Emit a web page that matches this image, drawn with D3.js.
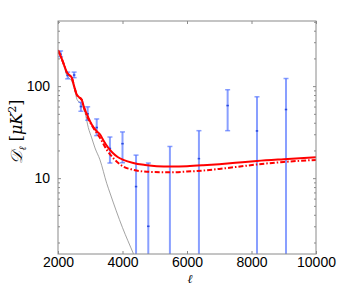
<!DOCTYPE html>
<html>
<head>
<meta charset="utf-8">
<script src="https://cdn.jsdelivr.net/npm/d3@7"></script>
<style>
  body { margin: 0; background: #fff; }
  svg { display: block; }
</style>
</head>
<body>
<div id="graph"></div>
<script>
const w = 352;
const h = 286;
const margin = {left: 58, right: 36, top: 21, bottom: 32};

// error-bar data points (multipole, D_ell, upper, lower)
const ells   = [2080, 2300, 2500, 2710, 2920, 3200, 3610, 4000, 4420, 4800, 5470, 6370, 7260, 8170, 9070];
const dlVals = [222, 131, 132, 60, 50, 35.5, 21, 23.7, 8.1, 3.0, 1.2, 16.3, 61.5, 32.6, 55.7];
const errHi  = [241, 142, 142, 66.8, 59.6, 44, 28, 31.8, 17.8, 14.6, 22.1, 32.8, 91.4, 76.6, 121];
const errLo  = [209, 120, 123.6, 53.3, 42.6, 29, 14.6, 14.7, 0.5, 0.5, 0.5, 0.5, 32.8, 0.5, 0.5];

// solid model curve
const solidEll = [2000, 2100, 2200, 2270, 2350, 2425, 2500, 2580, 2650, 2735, 2800, 2940, 3050, 3200, 3300, 3400, 3560, 3700, 3850, 4025, 4335, 4700, 5060, 5500, 6000, 6500, 7000, 7500, 8170, 9000, 10000];
const solidDl  = [245, 205, 165, 142, 132, 124, 100, 81, 76, 71, 60, 45.5, 38, 32.3, 30, 26, 21.3, 18.8, 17, 15.8, 14.6, 13.9, 13.5, 13.4, 13.5, 13.8, 14.2, 14.7, 15.4, 16.1, 16.9];

// dash-dot model curve
const dashEll = [2000, 2100, 2200, 2270, 2350, 2425, 2500, 2580, 2650, 2735, 2800, 2940, 3095, 3300, 3510, 3750, 4025, 4300, 4850, 5500, 6000, 6500, 7000, 7500, 8170, 9000, 10000];
const dashDl  = [245, 205, 165, 142, 132, 124, 100, 81, 76, 71, 59, 44, 35.3, 27.5, 20.4, 16, 13.4, 12.4, 11.7, 11.6, 11.8, 12.1, 12.6, 13.2, 14.1, 15, 15.8];

// thin grey curve
const greyEll = [2000, 2100, 2200, 2270, 2350, 2434, 2520, 2590, 2735, 2837, 2940, 3045, 3147, 3302, 3510, 3612, 4000, 4335, 4500];
const greyDl  = [245, 200, 160, 131, 122, 112, 90, 71.6, 63, 51.6, 35.4, 27.4, 21.3, 15.8, 8.8, 6.9, 2.9, 1.52, 1.1];

const xTicks = [2000, 4000, 6000, 8000, 10000];
const yTicks = [10, 100];
const yMinor = [2, 3, 4, 5, 6, 7, 8, 9, 20, 30, 40, 50, 60, 70, 80, 90, 200, 300, 400, 500];

const iw = w - margin.left - margin.right;
const ih = h - margin.top - margin.bottom;

const svg = d3.select('#graph')
  .append('svg')
  .attr('width', w)
  .attr('height', h);

const g = svg.append('g')
  .attr('transform', 'translate(' + margin.left + ',' + margin.top + ')');

const xScale = d3.scaleLinear().domain([2000, 10000]).range([0, iw]);
const yScale = d3.scaleLog().domain([1.5, 510]).range([ih, 0]);

g.append('clipPath').attr('id', 'clip')
  .append('rect').attr('width', iw).attr('height', ih);

const plot = g.append('g').attr('clip-path', 'url(#clip)');

const frameColor = '#8a8a8a';

// axes, ticks pointing inward
function styleAxis(sel) {
  sel.select('.domain').remove();
  sel.selectAll('line').attr('stroke', frameColor);
  sel.selectAll('text')
    .style('font-family', '"Liberation Sans", Arial, sans-serif')
    .style('font-size', '14px')
    .attr('fill', '#000');
}

g.append('g')
  .attr('transform', 'translate(0,' + ih + ')')
  .call(d3.axisBottom(xScale).tickValues(xTicks).tickSize(-3).tickPadding(3).tickFormat(d3.format('d')))
  .call(styleAxis);

g.append('g')
  .call(d3.axisTop(xScale).tickValues(xTicks).tickSize(-3).tickFormat(''))
  .call(styleAxis);

g.append('g')
  .call(d3.axisLeft(yScale).tickValues(yTicks).tickSize(-3).tickPadding(8).tickFormat(d3.format('d')))
  .call(styleAxis);

g.append('g')
  .call(d3.axisLeft(yScale).tickValues(yMinor).tickSize(-2).tickFormat(''))
  .call(styleAxis);

g.append('g')
  .attr('transform', 'translate(' + iw + ',0)')
  .call(d3.axisRight(yScale).tickValues(yTicks).tickSize(-3).tickFormat(''))
  .call(styleAxis);

g.append('g')
  .attr('transform', 'translate(' + iw + ',0)')
  .call(d3.axisRight(yScale).tickValues(yMinor).tickSize(-2).tickFormat(''))
  .call(styleAxis);

// grey curve
const line = d3.line()
  .x(d => xScale(d[0]))
  .y(d => yScale(d[1]))
  .curve(d3.curveMonotoneX);

plot.append('path')
  .datum(d3.zip(greyEll, greyDl))
  .attr('d', line)
  .attr('fill', 'none')
  .attr('stroke', '#8c8c8c')
  .attr('stroke-width', 0.8);

// error bars
const bars = plot.selectAll('.errbar')
  .data(d3.range(ells.length))
  .enter()
  .append('g')
  .attr('class', 'errbar');

const blue = '#4a6cff';
bars.append('line')
  .attr('x1', i => xScale(ells[i]))
  .attr('x2', i => xScale(ells[i]))
  .attr('y1', i => yScale(errHi[i]))
  .attr('y2', i => yScale(errLo[i]))
  .attr('stroke', blue)
  .attr('stroke-opacity', 0.65)
  .attr('stroke-width', 2);

[errHi, errLo].forEach(arr => {
  bars.append('line')
    .attr('x1', i => xScale(ells[i]) - 2.5)
    .attr('x2', i => xScale(ells[i]) + 2.5)
    .attr('y1', i => yScale(arr[i]))
    .attr('y2', i => yScale(arr[i]))
    .attr('stroke', blue)
    .attr('stroke-opacity', 0.65)
    .attr('stroke-width', 1.5);
});

bars.append('line')
  .attr('x1', i => xScale(ells[i]) - 1.2)
  .attr('x2', i => xScale(ells[i]) + 1.2)
  .attr('y1', i => yScale(dlVals[i]))
  .attr('y2', i => yScale(dlVals[i]))
  .attr('stroke', '#2a4ae0')
  .attr('stroke-width', 1.6);

// model curves
plot.append('path')
  .datum(d3.zip(dashEll, dashDl))
  .attr('d', line)
  .attr('fill', 'none')
  .attr('stroke', '#ff0000')
  .attr('stroke-width', 2)
  .attr('stroke-dasharray', '5,2,1.5,2');

plot.append('path')
  .datum(d3.zip(solidEll, solidDl))
  .attr('d', line)
  .attr('fill', 'none')
  .attr('stroke', '#ff0000')
  .attr('stroke-width', 2);

// frame
g.append('rect')
  .attr('width', iw)
  .attr('height', ih)
  .attr('fill', 'none')
  .attr('stroke', frameColor)
  .attr('stroke-width', 1);

// axis labels
svg.append('text')
  .attr('x', margin.left + iw / 2 + 3)
  .attr('y', h - 3)
  .attr('text-anchor', 'middle')
  .style('font-family', '"DejaVu Serif", serif')
  .style('font-style', 'italic')
  .style('font-size', '12px')
  .text('ℓ');

const ylab = svg.append('text')
  .attr('transform', 'translate(22,' + (margin.top + ih / 2 - 6) + ') rotate(-90)')
  .attr('text-anchor', 'middle')
  .style('font-family', '"DejaVu Serif", serif')
  .style('font-size', '16px');
ylab.append('tspan').style('font-style', 'italic').text('𝒟');
ylab.append('tspan').attr('dy', 4).style('font-size', '10px').style('font-style', 'italic').text('ℓ');
ylab.append('tspan').attr('dy', -4).text('  [');
ylab.append('tspan').style('font-style', 'italic').text('μK');
ylab.append('tspan').attr('dy', -6).style('font-size', '11px').text('2');
ylab.append('tspan').attr('dy', 6).text(']');
</script>
</body>
</html>
